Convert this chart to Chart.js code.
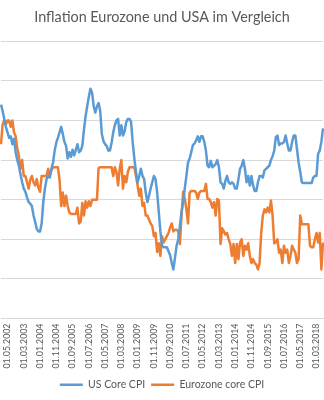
<!DOCTYPE html>
<html>
<head>
<meta charset="utf-8">
<script src="https://cdn.jsdelivr.net/npm/chart.js@4"></script>
<style>
  body { margin: 0; background: #fff; }
  #wrap { width: 324px; height: 400px; }
</style>
</head>
<body>
<div id="wrap"><canvas id="chart"></canvas></div>
<script>
// monthly values, Jan 2002 .. Jul 2018
var startYear = 2002;
var startMonth = 1;

var usCore = [
  // 2002
  2.7, 2.62, 2.52, 2.42, 2.35, 2.28, 2.3, 2.2, 2.27, 2.1, 2.0, 1.93,
  // 2003
  1.82, 1.72, 1.64, 1.6, 1.53, 1.47, 1.45, 1.42, 1.3, 1.22, 1.13, 1.1,
  // 2004
  1.1, 1.2, 1.47, 1.64, 1.76, 1.8, 1.78, 1.89, 1.97, 2.12, 2.22, 2.28,
  // 2005
  2.35, 2.42, 2.33, 2.23, 2.18, 2.02, 2.1, 2.04, 2.13, 2.06, 2.13, 2.2,
  // 2006
  2.1, 2.12, 2.18, 2.38, 2.55, 2.68, 2.8, 2.9, 2.85, 2.68, 2.6, 2.68,
  // 2007
  2.72, 2.62, 2.33, 2.24, 2.2, 2.18, 2.12, 2.12, 2.22, 2.35, 2.44, 2.5,
  // 2008
  2.52, 2.31, 2.44, 2.31, 2.36, 2.48, 2.52, 2.52, 2.48, 2.22, 2.02, 1.85,
  // 2009
  1.72, 1.8, 1.89, 1.8, 1.76, 1.59, 1.47, 1.55, 1.64, 1.72, 1.8, 1.76,
  // 2010
  1.6, 1.35, 1.1, 0.92, 0.9, 0.9, 0.9, 0.85, 0.8, 0.7, 0.62, 0.77,
  // 2011
  0.92, 1.0, 1.17, 1.34, 1.47, 1.64, 1.8, 1.97, 2.02, 2.1, 2.19, 2.21,
  // 2012
  2.25, 2.3, 2.23, 2.3, 2.3, 2.23, 2.12, 1.93, 1.91, 1.99, 1.91, 1.93,
  // 2013
  1.95, 2.0, 1.91, 1.72, 1.7, 1.64, 1.74, 1.8, 1.72, 1.7, 1.72, 1.7,
  // 2014
  1.64, 1.64, 1.76, 1.89, 1.93, 2.0, 1.89, 1.72, 1.8, 1.68, 1.8, 1.68,
  // 2015
  1.61, 1.61, 1.72, 1.8, 1.8, 1.78, 1.87, 1.89, 1.91, 1.93, 2.0, 2.05,
  // 2016
  2.12, 2.29, 2.31, 2.19, 2.21, 2.21, 2.23, 2.31, 2.21, 2.12, 2.12, 2.23,
  // 2017
  2.31, 2.31, 2.14, 1.97, 1.85, 1.72, 1.71, 1.71, 1.71, 1.71, 1.71, 1.71,
  // 2018
  1.78, 1.8, 1.8, 2.08, 2.12, 2.23, 2.4
];

var euCore = [
  // 2002
  2.2, 2.45, 2.5, 2.45, 2.5, 2.5, 2.42, 2.5, 2.35, 2.3, 2.15, 2.05,
  // 2003
  1.89, 2.0, 1.8, 1.8, 1.72, 1.64, 1.75, 1.8, 1.72, 1.68, 1.76, 1.65,
  // 2004
  1.6, 1.8, 1.8, 1.8, 1.8, 1.89, 1.8, 1.87, 1.91, 1.91, 1.91, 1.91,
  // 2005
  1.75, 1.42, 1.59, 1.42, 1.55, 1.42, 1.34, 1.32, 1.32, 1.32, 1.32, 1.4,
  // 2006
  1.2, 1.22, 1.46, 1.3, 1.48, 1.4, 1.48, 1.42, 1.5, 1.5, 1.5, 1.5,
  // 2007
  1.9, 1.91, 1.91, 1.91, 1.91, 1.91, 1.91, 1.91, 1.91, 1.8, 1.91, 1.85,
  // 2008
  1.68, 1.89, 2.0, 1.64, 1.8, 1.72, 1.85, 1.91, 1.91, 1.91, 1.91, 1.8,
  // 2009
  1.68, 1.55, 1.64, 1.42, 1.46, 1.3, 1.3, 1.25, 1.2, 1.17, 1.04, 1.08,
  // 2010
  0.84, 0.95, 0.79, 1.04, 0.96, 1.0, 1.04, 1.08, 1.15, 1.2, 1.1, 1.12,
  // 2011
  1.12, 1.1, 0.94, 1.3, 1.6, 1.51, 1.38, 1.2, 1.59, 1.61, 1.61, 1.61,
  // 2012
  1.59, 1.51, 1.59, 1.61, 1.61, 1.61, 1.7, 1.51, 1.51, 1.47, 1.4, 1.47,
  // 2013
  1.3, 1.51, 1.49, 0.94, 1.14, 1.1, 1.06, 1.08, 1.0, 0.94, 0.79, 0.94,
  // 2014
  0.7, 0.94, 0.75, 0.96, 1.0, 0.79, 0.92, 0.87, 0.95, 0.79, 0.7, 0.75,
  // 2015
  0.7, 0.68, 0.62, 0.7, 1.08, 1.3, 1.38, 1.34, 1.4, 1.34, 1.49, 1.3,
  // 2016
  0.95, 0.96, 1.0, 0.83, 0.87, 0.7, 0.92, 0.83, 0.87, 0.7, 0.79, 0.92,
  // 2017
  0.87, 0.83, 0.7, 0.75, 1.3, 1.19, 1.19, 1.19, 1.19, 1.19, 0.92, 0.9,
  // 2018
  0.9, 1.0, 1.08, 0.96, 1.08, 0.62, 0.96
];

// labels that are shown on the x axis
var tickLabels = [
  '01.05.2002', '01.03.2003', '01.01.2004', '01.11.2004', '01.09.2005',
  '01.07.2006', '01.05.2007', '01.03.2008', '01.01.2009', '01.11.2009',
  '01.09.2010', '01.07.2011', '01.05.2012', '01.03.2013', '01.01.2014',
  '01.11.2014', '01.09.2015', '01.07.2016', '01.05.2017', '01.03.2018'
];

// one category per month
var months = [];
for (var i = 0; i < usCore.length; i++) {
  var m = startMonth - 1 + i;
  var y = startYear + Math.floor(m / 12);
  var mm = (m % 12) + 1;
  months.push('01.' + (mm < 10 ? '0' + mm : mm) + '.' + y);
}

var fontFamily = "Lato, 'Liberation Sans', sans-serif";
var textColor = '#595959';
var gridColor = '#d9d9d9';

var ctx = document.getElementById('chart').getContext('2d');

var chart = new Chart(ctx, {
  type: 'line',
  data: {
    labels: months,
    datasets: [{
      label: 'US Core CPI',
      data: usCore,
      borderColor: '#5b9bd5',
      backgroundColor: '#5b9bd5',
      borderWidth: 2.5,
      pointRadius: 0,
      borderJoinStyle: 'round',
      tension: 0
    }, {
      label: 'Eurozone core CPI',
      data: euCore,
      borderColor: '#ed7d31',
      backgroundColor: '#ed7d31',
      borderWidth: 2.5,
      pointRadius: 0,
      borderJoinStyle: 'round',
      tension: 0
    }]
  },
  options: {
    responsive: true,
    maintainAspectRatio: false,
    animation: false,
    layout: {
      padding: { left: 1, right: 1, top: 0, bottom: 0 }
    },
    plugins: {
      title: {
        display: true,
        text: 'Inflation Eurozone und USA im Vergleich',
        color: textColor,
        font: { family: fontFamily, size: 14.4, weight: 'normal' },
        padding: { top: 9, bottom: 15 }
      },
      legend: {
        position: 'bottom',
        labels: {
          color: textColor,
          font: { family: fontFamily, size: 10.5 },
          usePointStyle: true,
          pointStyle: 'line',
          pointStyleWidth: 23,
          boxHeight: 8,
          padding: 6
        }
      },
      tooltip: { enabled: false }
    },
    scales: {
      x: {
        grid: { display: false, drawTicks: false },
        border: { display: true, color: gridColor },
        ticks: {
          autoSkip: false,
          minRotation: 90,
          maxRotation: 90,
          padding: 5,
          color: textColor,
          font: { family: fontFamily, size: 8.8 },
          callback: function (value, index) {
            return tickLabels.indexOf(months[index]) >= 0 ? months[index] : '';
          }
        },
        afterFit: function (axis) {
          axis.paddingLeft = 0;
          axis.paddingRight = 0;
        }
      },
      y: {
        min: 0,
        max: 3.5,
        ticks: { display: false, stepSize: 0.5 },
        grid: { color: gridColor, drawTicks: false },
        border: { display: false },
        afterFit: function (axis) { axis.width = 0; }
      }
    }
  }
});
</script>
</body>
</html>
